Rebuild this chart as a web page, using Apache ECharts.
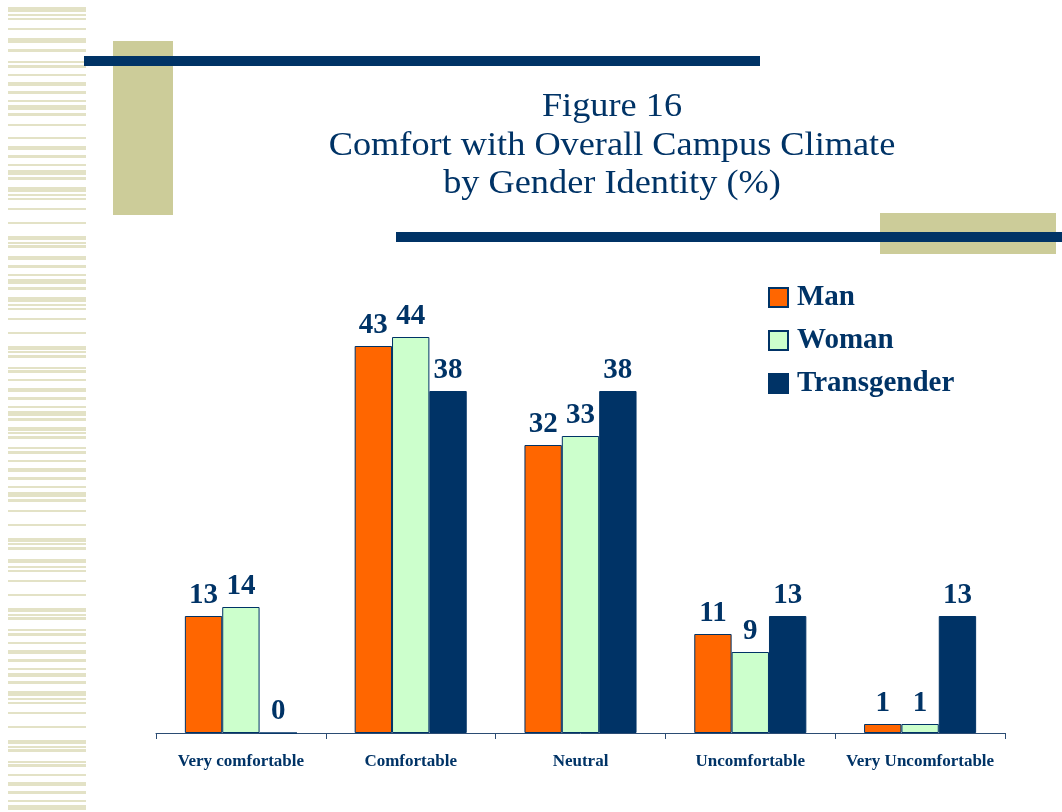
<!DOCTYPE html>
<html>
<head>
<meta charset="utf-8">
<script src="https://cdn.jsdelivr.net/npm/echarts@6/dist/echarts.min.js"></script>
<style>
  html, body { margin: 0; padding: 0; background: #fff; }
  #chart { width: 1062px; height: 812px; }
</style>
</head>
<body>
<div id="chart"></div>
<script>
// 数据：各舒适度类别与三种性别认同的百分比
const categories = ['Very comfortable', 'Comfortable', 'Neutral', 'Uncomfortable', 'Very Uncomfortable'];
const seriesNames = ['Man', 'Woman', 'Transgender'];
const manValues = [13, 43, 32, 11, 1];
const womanValues = [14, 44, 33, 9, 1];
const transValues = [0, 38, 38, 13, 13];
const titleLines = ['Figure 16', 'Comfort with Overall Campus Climate', 'by Gender Identity (%)'];

const NAVY = '#003366';
const KHAKI = '#CCCC99';
const STRIPE = '#E3E2C6';
const SERIF = '"Liberation Serif", "Times New Roman", serif';

// 左侧装饰条纹（y, 高度）
const stripes = [
  [7,5],[14,2],[18,2],[28,2],[38,5],[49,3],[61,2],[65,3],[74,2],[82,4],[91,3],[100,2],[105,5],[113,3],
  [124,2],[137,2],[146,4],[155,3],[164,2],[170,5],[177,3],[187,5],[194,2],[198,2],[208,2],[222,2],
  [236,4],[242,2],[245,3],[256,4],[265,3],[274,2],[279,5],[287,3],[297,5],[304,2],[308,2],[318,2],
  [332,2],[346,4],[351,2],[355,3],[367,2],[370,3],[379,2],[388,4],[397,3],[406,2],[411,5],[418,3],
  [427,4],[432,2],[436,3],[447,2],[451,3],[460,2],[468,4],[477,3],[486,2],[492,5],[499,3],[510,2],
  [524,2],[538,4],[543,2],[547,3],[559,4],[566,2],[570,2],[580,2],[594,2],[608,4],[614,2],[617,3],
  [629,2],[633,3],[642,2],[650,4],[659,3],[668,2],[673,4],[681,3],[691,5],[698,2],[702,2],[712,2],
  [726,2],[740,4],[746,2],[749,3],[761,2],[764,3],[774,2],[782,4],[791,3],[800,2],[805,5]
];

function buildGraphics() {
  const g = [];
  stripes.forEach(([y, h]) => {
    g.push({ type: 'rect', shape: { x: 8, y: y, width: 78, height: h }, style: { fill: STRIPE }, silent: true, z: -10 });
  });
  // 卡其色方块与深蓝横线
  g.push({ type: 'rect', shape: { x: 113, y: 41, width: 60, height: 174 }, style: { fill: KHAKI }, silent: true, z: -9 });
  g.push({ type: 'rect', shape: { x: 84, y: 56, width: 676, height: 10 }, style: { fill: NAVY }, silent: true, z: -8 });
  g.push({ type: 'rect', shape: { x: 880, y: 213, width: 176, height: 41 }, style: { fill: KHAKI }, silent: true, z: -9 });
  g.push({ type: 'rect', shape: { x: 396, y: 232, width: 666, height: 10 }, style: { fill: NAVY }, silent: true, z: -8 });
  // 标题（原图字体略宽，横向拉伸）
  const ys = [107, 146, 184];
  titleLines.forEach((t, i) => {
    g.push({
      type: 'text', x: 612, y: ys[i], scaleX: 1.1, silent: true,
      style: { text: t, fill: NAVY, fontSize: 33, fontFamily: SERIF, align: 'center', verticalAlign: 'middle' }
    });
  });
  return g;
}

const labelStyle = {
  show: true, position: 'top', distance: 6,
  color: NAVY, fontSize: 29, fontWeight: 'bold', fontFamily: SERIF
};

function makeSeries(name, data, color) {
  return {
    name: name, type: 'bar', data: data,
    barGap: 0, barCategoryGap: '34%',
    itemStyle: { color: color, borderColor: NAVY, borderWidth: 1 },
    label: labelStyle
  };
}

const chart = echarts.init(document.getElementById('chart'), null, { renderer: 'canvas' });
chart.setOption({
  backgroundColor: '#fff',
  animation: false,
  graphic: buildGraphics(),
  legend: {
    orient: 'vertical', left: 768, top: 283, padding: 0,
    itemWidth: 19, itemHeight: 19, itemGap: 14,
    icon: 'rect',
    data: seriesNames,
    textStyle: { color: NAVY, fontSize: 29, fontWeight: 'bold', fontFamily: SERIF, lineHeight: 28, padding: [0, 0, 0, 4] }
  },
  grid: { left: 156, right: 57, top: 283, bottom: 79, containLabel: false },
  xAxis: {
    type: 'category', data: categories,
    axisLine: { lineStyle: { color: '#2B4C73', width: 1 } },
    axisTick: { show: true, length: 6, lineStyle: { color: '#2B4C73' } },
    axisLabel: { interval: 0, color: NAVY, fontSize: 17, fontWeight: 'bold', fontFamily: SERIF, margin: 20 }
  },
  yAxis: {
    type: 'value', min: 0, max: 50, interval: 10, show: false,
    splitLine: { show: false }
  },
  series: [
    makeSeries(seriesNames[0], manValues, '#FF6600'),
    makeSeries(seriesNames[1], womanValues, '#CCFFCC'),
    makeSeries(seriesNames[2], transValues, NAVY)
  ]
});
</script>
</body>
</html>
